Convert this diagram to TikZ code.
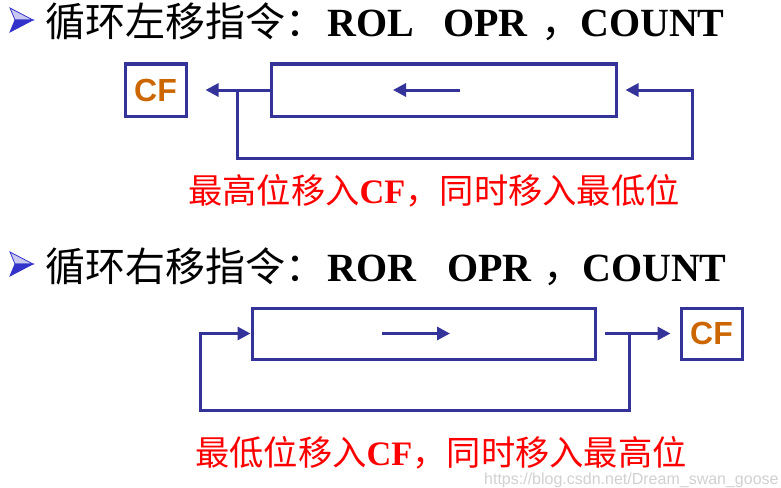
\documentclass[tikz,border=0pt]{standalone}
\usepackage{fontspec}
\setmainfont{Liberation Serif}
\newfontfamily\cjk{Noto Sans CJK SC}
\newfontfamily\arialf{Liberation Sans}
\usetikzlibrary{arrows.meta,calc}
\definecolor{lineblue}{HTML}{333399}
\definecolor{cforange}{HTML}{CC6600}
\definecolor{bulletblue}{HTML}{3333CC}
\definecolor{bulletlight}{HTML}{C8C8F0}
\tikzset{
  wire/.style={draw=lineblue, line width=3pt},
  arr/.style={wire, -{Triangle[length=13pt,width=13pt]}},
  regbox/.style={draw=lineblue, line width=3pt, minimum width=345pt, minimum height=52pt, inner sep=0pt},
  cfbox/.style={draw=lineblue, line width=3pt, minimum width=61pt, minimum height=52pt, inner sep=0pt,
    text=cforange, font=\arialf\bfseries\fontsize{32}{32}\selectfont},
  ttl/.style={anchor=base west, inner sep=0pt, font=\fontsize{40}{40}\selectfont},
  ttllat/.style={ttl, font=\bfseries\fontsize{40}{40}\selectfont},
  redtxt/.style={anchor=base west, inner sep=0pt, text=red, font=\fontsize{34.3}{34.3}\selectfont},
}
\newcommand{\bulletmark}[2]{%
  \fill[bulletlight, draw=bulletblue, line width=0.8pt] (#1+10,#2-12) -- (#1+33,#2) -- (#1+15,#2) -- cycle;
  \fill[bulletblue, draw=bulletblue, line width=0.8pt] (#1+10,#2+12) -- (#1+33,#2) -- (#1+15,#2) -- cycle;
}
\begin{document}
\begin{tikzpicture}[x=1pt,y=-1pt]
\useasboundingbox (0,0) rectangle (781,487);
\fill[white] (0,0) rectangle (781,487);

% ---- title 1 ----
\bulletmark{0}{20}
\node[ttl] (t1a) at (45,37) {\cjk 循环左移指令：};
\node[ttllat] (t1b) at (327,37) {ROL};
\node[ttllat] (t1c) at (443,37) {OPR};
\node[ttl] (t1d) at (541,37) {\cjk ，};
\node[ttllat] (t1e) at (580,37) {COUNT};

% ---- diagram 1 ----
\node[cfbox] (cf1) at (155.5,90) {CF};
\node[regbox] (reg1) at (443.5,90) {};
\coordinate (j1) at (237,90);
\coordinate (c1a) at (237,158);
\coordinate (c1b) at (692,158);
\coordinate (i1s) at (460,90);
\coordinate (i1e) at (393,90);
\draw[arr, shorten >=18pt] (reg1.west) -- (cf1.east);
\draw[arr, shorten >=8pt] (j1) -- (c1a) -- (c1b) |- (reg1.east);
\draw[arr] (i1s) -- (i1e);

\node[redtxt] (r1) at (188,203) {{\cjk 最高位移入}\textbf{CF}{\cjk ，同时移入最低位}};

% ---- title 2 ----
\bulletmark{0}{264}
\node[ttl] (t2a) at (45,281) {\cjk 循环右移指令：};
\node[ttllat] (t2b) at (327,281) {ROR};
\node[ttllat] (t2c) at (447,281) {OPR};
\node[ttl] (t2d) at (543,281) {\cjk ，};
\node[ttllat] (t2e) at (582,281) {COUNT};

% ---- diagram 2 ----
\node[regbox, minimum width=343pt, minimum height=51pt] (reg2) at (423.5,333.5) {};
\node[cfbox, minimum height=51pt] (cf2) at (711.5,333.5) {CF};
\coordinate (s2) at (605,333.5);
\coordinate (j2) at (629,333.5);
\coordinate (c2a) at (629,410);
\coordinate (c2b) at (200,410);
\coordinate (i2s) at (382,333.5);
\coordinate (i2e) at (450,333.5);
\draw[arr, shorten >=9pt] (s2) -- (cf2.west);
\draw[arr] (j2) -- (c2a) -- (c2b) |- (reg2.west);
\draw[arr] (i2s) -- (i2e);

\node[redtxt] (r2) at (195,465) {{\cjk 最低位移入}\textbf{CF}{\cjk ，同时移入最高位}};

\node[anchor=base west, inner sep=0pt, text=black!18, font=\arialf\fontsize{16}{16}\selectfont] (wm) at (484,484) {https://blog.csdn.net/Dream\_swan\_goose};
\end{tikzpicture}
\end{document}
